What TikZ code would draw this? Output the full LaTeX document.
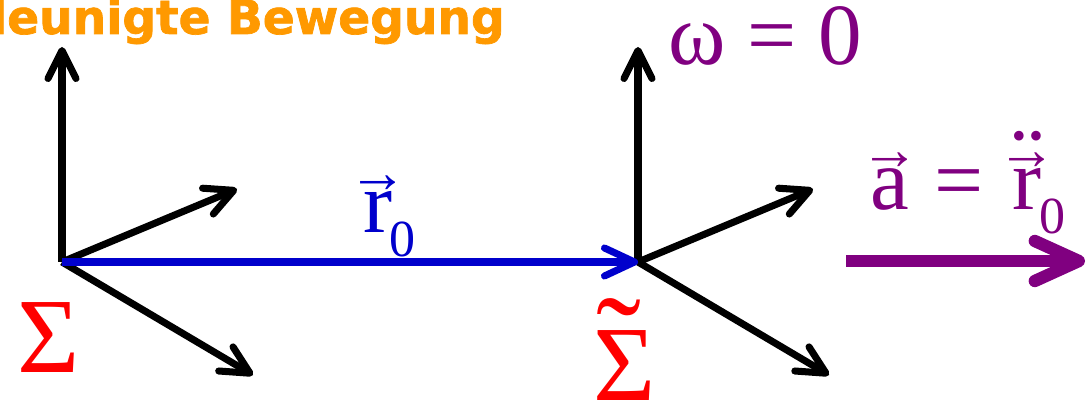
\documentclass[tikz,border=0pt]{standalone}
\usepackage{fontspec}
\setmainfont{Liberation Serif}
\newfontfamily\headfont{DejaVu Sans Bold}[FakeBold=1.5]
\usepackage{tikz}
\usetikzlibrary{arrows.meta,positioning}
\definecolor{mOrange}{RGB}{255,153,0}
\definecolor{mPurple}{RGB}{128,0,128}
\definecolor{mBlue}{RGB}{0,0,204}
\definecolor{mRed}{RGB}{255,0,0}
\newcommand{\arrowover}[1]{\ooalign{#1\cr\hidewidth\raisebox{29pt}{\fontsize{42}{42}\selectfont →}\hidewidth\cr}}
\newcommand{\dotsover}[1]{\ooalign{#1\cr\hidewidth\raisebox{12pt}{\fontsize{70}{70}\selectfont ¨}\hidewidth\cr}}
\newcommand{\subzero}{\kern-2pt\raisebox{-17pt}{\fontsize{37}{37}\selectfont 0}}

\begin{document}
\begin{tikzpicture}[
    every node/.style={inner sep=0pt, font=\fontsize{62}{62}\selectfont},
    axisline/.style={line width=5pt, -{Straight Barb[length=7mm,width=7mm,round]}},
    shiftvec/.style={line width=5pt, mBlue, -{Straight Barb[length=7.5mm,width=7mm,round]}},
    accel/.style={line width=8.8pt, mPurple, -{Straight Barb[length=11mm,width=10mm,round]}}]
    \useasboundingbox (0,0) rectangle (27.225,10.05);
    % Title
    \node[mOrange, font=\headfont\fontsize{33.5}{34}\selectfont, anchor=base east]
      (title) at (12.625,9.2) {Beschleunigte Bewegung};
    % Frames
    \foreach \ox/\nm in {1.55/L, 15.95/R} {
      \coordinate (O\nm) at (\ox,3.5);
      \coordinate (U\nm) at (\ox,8.875);
      \coordinate (A\nm) at (\ox+4.375,5.325);
      \coordinate (B\nm) at (\ox+4.775,0.675);
      \draw[axisline] (O\nm) -- (U\nm);
      \draw[axisline] (O\nm) -- (A\nm);
      \draw[axisline] (O\nm) -- (B\nm);
    }
    % Shift vector
    \draw[shiftvec] (OL) -- (OR);
    \node[mBlue, anchor=base west] (rvec) at (9.075,4.225) {\arrowover{r}\subzero};
    % Labels
    \node[mRed, font=\fontsize{76}{76}\selectfont, anchor=base west] (sigL) at (0.425,0.725) {Σ};
    \node[mRed, font=\fontsize{76}{76}\selectfont, anchor=base west] (sigR) at (14.825,0.025) {Σ};
    \node[mRed, font=\fontsize{96}{96}\selectfont, anchor=base] (tld) at (15.475,0.3) {˜};
    \node[mPurple, anchor=base west] (omega) at (16.7,8.425) {ω = 0};
    % Acceleration
    \coordinate (aS) at (21.15,3.525);
    \coordinate (aE) at (27.125,3.525);
    \draw[accel] (aS) -- (aE);
    \node[mPurple, anchor=base west] (alab) at (21.75,4.8)
      {\arrowover{a} \hspace{3pt}= \hspace{5pt}\arrowover{\dotsover{r}}\subzero};
\end{tikzpicture}
\end{document}
